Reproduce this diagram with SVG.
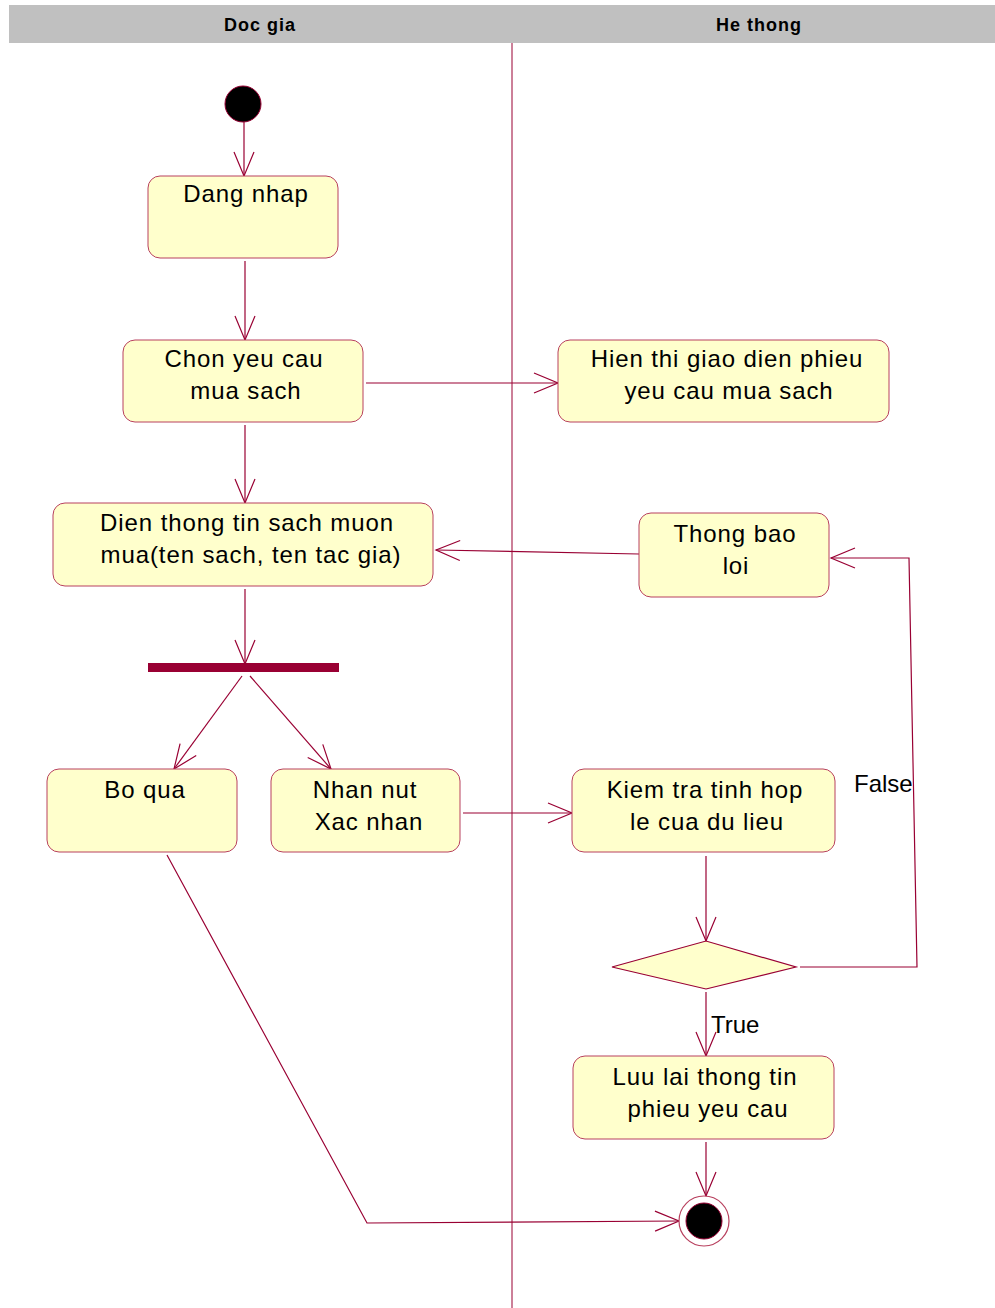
<svg xmlns="http://www.w3.org/2000/svg" width="995" height="1308" viewBox="0 0 995 1308">
  <style>
    .lane { font-family: "Liberation Sans", Arial, sans-serif; font-size: 18px; letter-spacing: 1px; font-weight: bold; fill: #000; text-anchor: middle; }
    .box { fill: #ffffcc; stroke: #b8405e; stroke-width: 1; }
    .lbl { font-family: "Liberation Sans", Arial, sans-serif; font-size: 24px; letter-spacing: 0.9px; fill: #000; text-anchor: middle; }
    .guard { font-family: "Liberation Sans", Arial, sans-serif; font-size: 24px; fill: #000; }
    .edge { fill: none; stroke: #990033; stroke-width: 1.2; marker-end: url(#open); }
  </style>
  <defs>
    <marker id="open" markerUnits="userSpaceOnUse" markerWidth="30" markerHeight="26" viewBox="-27 -13 30 26" refX="0" refY="0" orient="auto">
      <path d="M-24,-10 L0,0 L-24,10" fill="none" stroke="#990033" stroke-width="1.2"/>
    </marker>
  </defs>

  <rect width="995" height="1308" fill="#ffffff"/>

  <!-- swimlane header and divider -->
  <g id="lanes">
    <rect x="9" y="5" width="986" height="38" fill="#c0c0c0"/>
    <text class="lane" x="260" y="31">Doc gia</text>
    <text class="lane" x="759" y="31">He thong</text>
    <line x1="512" y1="43" x2="512" y2="1308" stroke="#990033" stroke-width="1"/>
  </g>

  <!-- connectors -->
  <g id="connectors">
    <path class="edge" d="M244,122 L244,176"/>
    <path class="edge" d="M245,261 L245,340"/>
    <path class="edge" d="M245,425 L245,503"/>
    <path class="edge" d="M366,383 L558,383"/>
    <path class="edge" d="M639,554 L436,550"/>
    <path class="edge" d="M245,589 L245,664"/>
    <path class="edge" d="M242,676 L174,769"/>
    <path class="edge" d="M250,676 L331,769"/>
    <path class="edge" d="M463,813 L572,813"/>
    <path class="edge" d="M706,856 L706,941"/>
    <path class="edge" d="M800,967 L917,967 L909,558 L831,558"/>
    <path class="edge" d="M706,992 L706,1056"/>
    <path class="edge" d="M706,1142 L706,1196"/>
    <path class="edge" d="M167,855 L367,1223 L679,1221"/>
    <text class="guard" x="854" y="792">False</text>
    <text class="guard" x="711" y="1033">True</text>
  </g>

  <g id="start">
    <circle cx="243" cy="104" r="18" fill="#000" stroke="#990033" stroke-width="1"/>
  </g>

  <g id="dang-nhap">
    <rect class="box" x="148" y="176" width="190" height="82" rx="12"/>
    <text class="lbl" x="246" y="202">Dang nhap</text>
  </g>

  <g id="chon-yeu-cau">
    <rect class="box" x="123" y="340" width="240" height="82" rx="12"/>
    <text class="lbl" x="244" y="367">Chon yeu cau</text>
    <text class="lbl" x="246" y="399">mua sach</text>
  </g>

  <g id="hien-thi">
    <rect class="box" x="558" y="340" width="331" height="82" rx="12"/>
    <text class="lbl" x="727" y="367">Hien thi giao dien phieu</text>
    <text class="lbl" x="729" y="399">yeu cau mua sach</text>
  </g>

  <g id="dien-thong-tin">
    <rect class="box" x="53" y="503" width="380" height="83" rx="12"/>
    <text class="lbl" x="247" y="531">Dien thong tin sach muon</text>
    <text class="lbl" x="251" y="563">mua(ten sach, ten tac gia)</text>
  </g>

  <g id="thong-bao-loi">
    <rect class="box" x="639" y="513" width="190" height="84" rx="12"/>
    <text class="lbl" x="735" y="542">Thong bao</text>
    <text class="lbl" x="736" y="574">loi</text>
  </g>

  <g id="fork">
    <rect x="148" y="663" width="191" height="9" fill="#990033"/>
  </g>

  <g id="bo-qua">
    <rect class="box" x="47" y="769" width="190" height="83" rx="12"/>
    <text class="lbl" x="145" y="798">Bo qua</text>
  </g>

  <g id="nhan-nut">
    <rect class="box" x="271" y="769" width="189" height="83" rx="12"/>
    <text class="lbl" x="365" y="798">Nhan nut</text>
    <text class="lbl" x="369" y="830">Xac nhan</text>
  </g>

  <g id="kiem-tra">
    <rect class="box" x="572" y="769" width="263" height="83" rx="12"/>
    <text class="lbl" x="705" y="798">Kiem tra tinh hop</text>
    <text class="lbl" x="707" y="830">le cua du lieu</text>
  </g>

  <g id="decision">
    <polygon points="612,967 706,941 796,967 706,989" fill="#ffffcc" stroke="#990033" stroke-width="1.2"/>
  </g>

  <g id="luu-lai">
    <rect class="box" x="573" y="1056" width="261" height="83" rx="12"/>
    <text class="lbl" x="705" y="1085">Luu lai thong tin</text>
    <text class="lbl" x="708" y="1117">phieu yeu cau</text>
  </g>

  <g id="end">
    <circle cx="704" cy="1221" r="25" fill="#ffffff" stroke="#b8405e" stroke-width="1.2"/>
    <circle cx="704" cy="1221" r="18" fill="#000" stroke="#990033" stroke-width="1"/>
  </g>
</svg>
